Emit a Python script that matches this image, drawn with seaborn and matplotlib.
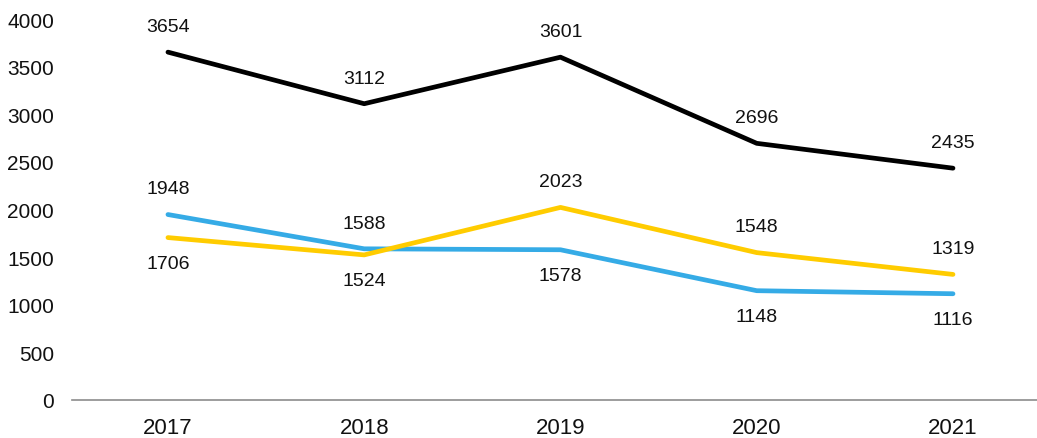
import matplotlib
matplotlib.use("Agg")
import matplotlib.pyplot as plt
import numpy as np
import pandas as pd
import seaborn as sns

years = ["2017", "2018", "2019", "2020", "2021"]
total = [3654, 3112, 3601, 2696, 2435]
blue_series = [1948, 1588, 1578, 1148, 1116]
yellow_series = [1706, 1524, 2023, 1548, 1319]

# label placement: +1 above the point, -1 below
total_pos = [1, 1, 1, 1, 1]
blue_pos = [1, 1, -1, -1, -1]
yellow_pos = [-1, -1, 1, 1, 1]

sns.set_theme(style="white")
plt.rcParams["font.family"] = ["Liberation Sans", "DejaVu Sans"]

series = {"total": total, "blue": blue_series, "yellow": yellow_series}
colors = {"total": "#000000", "blue": "#35abe6", "yellow": "#ffcc00"}
positions = {"total": total_pos, "blue": blue_pos, "yellow": yellow_pos}

rows = []
for name, vals in series.items():
    for i, v in enumerate(vals):
        rows.append({"x": i, "value": v, "series": name})
df = pd.DataFrame(rows)

fig = plt.figure(figsize=(10.37, 4.39), dpi=100)
ax = fig.add_axes([0.0694, 0.0866, 0.9306, 0.8674])

sns.lineplot(data=df, x="x", y="value", hue="series", palette=colors,
             linewidth=3.4, legend=False, ax=ax, solid_capstyle="round")

for name, vals in series.items():
    for i, v in enumerate(vals):
        ax.annotate(str(v), (i, v), xytext=(0, 18.5 * positions[name][i]),
                    textcoords="offset points", ha="center", va="center",
                    fontsize=14, color="#111111")

ax.set_xlim(-0.489, 4.428)
ax.set_ylim(0, 4000)
ax.set_yticks(np.arange(0, 4001, 500))
ax.set_xticks(range(len(years)))
ax.set_xticklabels(years)
ax.tick_params(axis="y", labelsize=15, pad=13, length=0, colors="#111111")
ax.tick_params(axis="x", labelsize=16, pad=12, length=0, colors="#111111")
ax.set_xlabel("")
ax.set_ylabel("")
for s in ["top", "right", "left"]:
    ax.spines[s].set_visible(False)
ax.spines["bottom"].set_color("#8c8c8c")
ax.spines["bottom"].set_linewidth(1.2)

fig.savefig("out.png", dpi=100)
